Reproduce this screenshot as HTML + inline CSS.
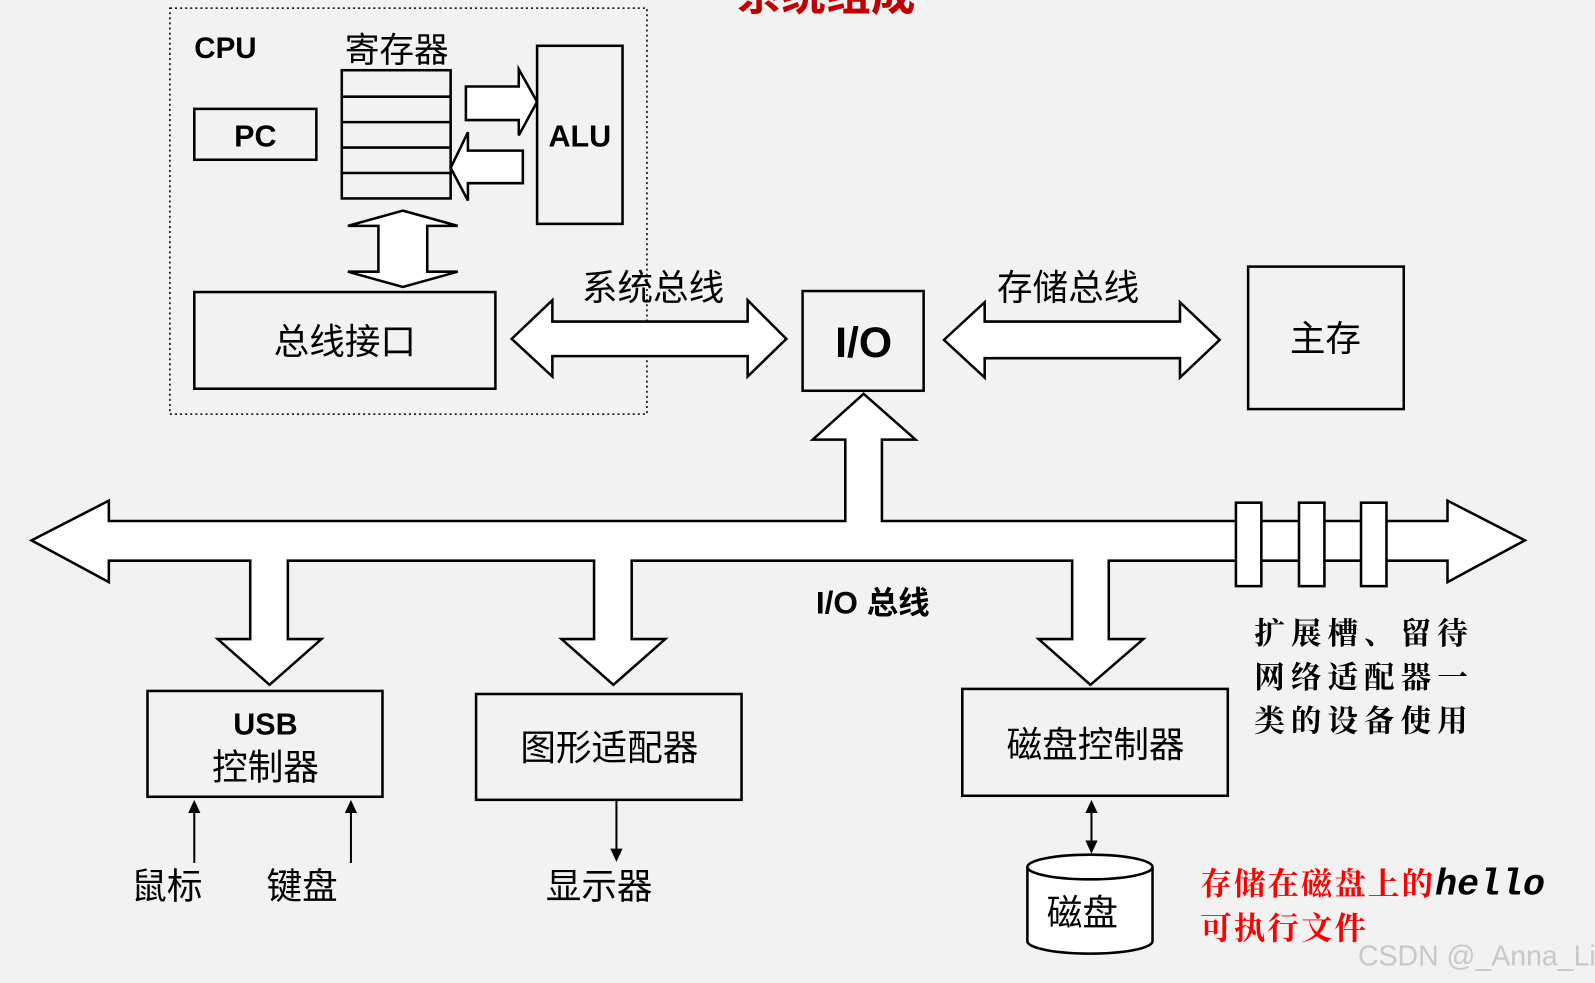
<!DOCTYPE html>
<html><head><meta charset="utf-8"><style>
html,body{margin:0;padding:0;background:#f2f2f2}
svg{display:block}
text{font-family:"Liberation Sans","Noto Sans CJK SC",sans-serif;fill:#000}
.k{font-family:"Liberation Serif","Noto Serif CJK SC",serif}
</style></head><body>
<svg width="1595" height="983" viewBox="0 0 1568 966" preserveAspectRatio="none" xmlns="http://www.w3.org/2000/svg">
<rect width="1568" height="966" fill="#f2f2f2"/>
<g fill="none" stroke="#000" stroke-width="2.5">
<rect x="167" y="8" width="469" height="399" stroke-width="1.5" stroke-dasharray="2,3"/>
<rect x="336" y="69" width="107" height="126"/>
<line x1="336" y1="95" x2="443" y2="95"/><line x1="336" y1="120" x2="443" y2="120"/>
<line x1="336" y1="145" x2="443" y2="145"/><line x1="336" y1="170" x2="443" y2="170"/>
<rect x="191" y="107" width="120" height="50"/>
<rect x="528" y="45" width="84" height="175"/>
<rect x="191" y="287" width="296" height="95"/>
<rect x="789" y="286" width="119" height="98"/>
<rect x="1227" y="262" width="153" height="140"/>
<rect x="145" y="679" width="231" height="104"/>
<rect x="468" y="682" width="261" height="104"/>
<rect x="946" y="677" width="261" height="105"/>
</g>
<g fill="#fff" stroke="#000" stroke-width="2.5" stroke-linejoin="miter">
<polygon points="458,85 510,85 510,68 528,100 510,133 510,118 458,118"/>
<polygon points="443,165 460,130 460,148 514,148 514,180 460,180 460,197"/>
<polygon points="396,207 450,222 420,222 420,267 450,267 396,282 342,267 372,267 372,222 342,222"/>
<polygon points="503,333 543,295 543,316 735,316 735,295 773,333 735,370 735,350 543,350 543,370"/>
<polygon points="928,334 968,297 968,316 1160,316 1160,297 1199,334 1160,371 1160,352 968,352 968,371"/>
<polygon points="31,531 107,492 107,512 831,512 831,432 799,432 849,387 900,432 867,432 867,512 1423,512 1423,492 1499,531 1423,572 1423,551 1090,551 1090,628 1124,628 1072,673 1021,628 1054,628 1054,551 621,551 621,628 654,628 603,673 552,628 584,628 584,551 283,551 283,628 316,628 265,673 214,628 246,628 246,551 107,551 107,572"/>
<rect x="1215" y="494" width="25" height="82"/>
<rect x="1277" y="494" width="25" height="82"/>
<rect x="1338" y="494" width="25" height="82"/>
<path d="M1010,852 L1010,925 A61,12 0 0 0 1133,925 L1133,852 A61,12 0 0 0 1010,852 A61,12 0 0 0 1133,852"/>
</g>
<g stroke="#000" stroke-width="2" fill="#000">
<line x1="191" y1="848" x2="191" y2="795"/><polygon points="185,799 191,786 197,799" stroke="none"/>
<line x1="345" y1="848" x2="345" y2="795"/><polygon points="339,799 345,786 351,799" stroke="none"/>
<line x1="606" y1="786" x2="606" y2="838"/><polygon points="600,834 606,847 612,834" stroke="none"/>
<line x1="1073" y1="795" x2="1073" y2="830"/><polygon points="1067,799 1073,786 1079,799" stroke="none"/><polygon points="1067,826 1073,839 1079,826" stroke="none"/>
</g>
<text x="812" y="10" font-size="44" font-weight="bold" text-anchor="middle" style="fill:#c00000">系统组成</text>
<text x="191" y="57" font-size="29" font-weight="bold">CPU</text>
<text x="390" y="61" font-size="34" text-anchor="middle">寄存器</text>
<text x="251" y="144" font-size="30" font-weight="bold" text-anchor="middle">PC</text>
<text x="570" y="144" font-size="30" font-weight="bold" text-anchor="middle">ALU</text>
<text x="339" y="348" font-size="35" text-anchor="middle">总线接口</text>
<text x="642" y="295" font-size="35" text-anchor="middle">系统总线</text>
<text x="849" y="351" font-size="42" font-weight="bold" text-anchor="middle">I/O</text>
<text x="1050" y="295" font-size="35" text-anchor="middle">存储总线</text>
<text x="1303" y="345" font-size="35" text-anchor="middle">主存</text>
<text x="858" y="603" font-size="31" font-weight="bold" text-anchor="middle">I/O 总线</text>
<text x="261" y="722" font-size="30" font-weight="bold" text-anchor="middle">USB</text>
<text x="261" y="766" font-size="35" text-anchor="middle">控制器</text>
<text x="599" y="747" font-size="35" text-anchor="middle">图形适配器</text>
<text x="1077" y="744" font-size="35" text-anchor="middle">磁盘控制器</text>
<text x="164" y="883" font-size="35" text-anchor="middle">鼠标</text>
<text x="297" y="883" font-size="35" text-anchor="middle">键盘</text>
<text x="589" y="883" font-size="35" text-anchor="middle">显示器</text>
<text x="1064" y="909" font-size="35" text-anchor="middle">磁盘</text>
<text class="k" x="1233" y="633" font-size="30" font-weight="bold" letter-spacing="6">扩展槽、留待</text>
<text class="k" x="1233" y="676" font-size="30" font-weight="bold" letter-spacing="6">网络适配器一</text>
<text class="k" x="1233" y="719" font-size="30" font-weight="bold" letter-spacing="6">类的设备使用</text>
<text class="k" x="1180" y="879" font-size="31" font-weight="bold" letter-spacing="2" style="fill:#ff0000">存储在磁盘上的<tspan style="fill:#000;font-family:'Liberation Mono',monospace;font-style:italic;font-size:36px" letter-spacing="0">hello</tspan></text>
<text class="k" x="1180" y="923" font-size="31" font-weight="bold" letter-spacing="2" style="fill:#ff0000">可执行文件</text>
<text x="1335" y="949" font-size="28" style="fill:#c8c8c8">CSDN @_Anna_Li</text>
</svg>
</body></html>
